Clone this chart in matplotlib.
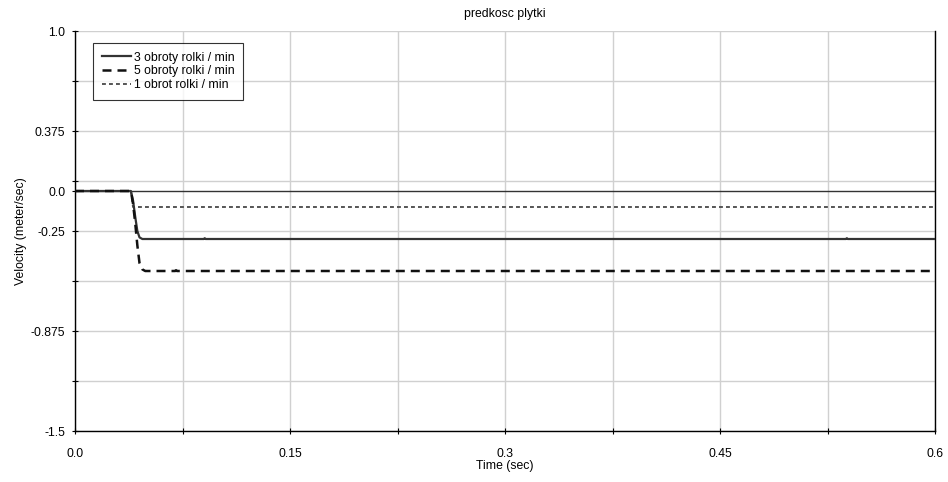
import matplotlib
matplotlib.use("Agg")
import matplotlib.pyplot as plt
import numpy as np

plt.rcParams['font.family'] = ['Liberation Sans', 'DejaVu Sans']

title = "predkosc plytki"
xlabel = "Time (sec)"
ylabel = "Velocity (meter/sec)"

# series data
t_3 = [0.0, 0.039, 0.0405, 0.042, 0.0435, 0.045, 0.047, 0.090, 0.0905, 0.091, 0.538, 0.5385, 0.539, 0.6]
v_3 = [0.0, 0.0, -0.06, -0.16, -0.25, -0.29, -0.30, -0.30, -0.295, -0.30, -0.30, -0.295, -0.30, -0.30]

t_5 = [0.0, 0.039, 0.0405, 0.042, 0.0435, 0.045, 0.047, 0.049, 0.070, 0.0705, 0.071, 0.6]
v_5 = [0.0, 0.0, -0.08, -0.20, -0.34, -0.45, -0.49, -0.50, -0.50, -0.495, -0.50, -0.50]

t_1 = [0.0, 0.039, 0.0405, 0.6]
v_1 = [0.0, 0.0, -0.10, -0.10]

labels = ["3 obroty rolki / min", "5 obroty rolki / min", "1 obrot rolki / min"]

x_major = [0.0, 0.15, 0.3, 0.45, 0.6]
x_minor = [0.075, 0.225, 0.375, 0.525]
y_major = [1.0, 0.375, 0.0, -0.25, -0.875, -1.5]
y_minor = [0.6875, 0.0625, -0.5625, -1.1875]

FS = 8.8

fig = plt.figure(figsize=(9.48, 4.82), dpi=100)
ax = fig.add_axes([75/948, 1-431/482, 860/948, 400/482])

ax.set_xlim(0, 0.6)
ax.set_ylim(-1.5, 1.0)

grid_y = [1.0, 0.6875, 0.375, 0.0625, -0.25, -0.5625, -0.875, -1.1875, -1.5]
for g in grid_y:
    ax.axhline(g, color='#d0d0d0', lw=1.0, zorder=0)
for g in x_major + x_minor:
    ax.axvline(g, color='#d0d0d0', lw=1.0, zorder=0)
ax.axhline(0.0, color='#333333', lw=1.0, zorder=1)

ax.plot(t_3, v_3, color='#333333', lw=1.6, label=labels[0], zorder=3)
ax.plot(t_5, v_5, color='#111111', lw=1.8, dashes=(3.6, 2.4), label=labels[1], zorder=3)
ax.plot(t_1, v_1, color='#555555', lw=1.4, dashes=(2.0, 1.6), label=labels[2], zorder=2)

ax.set_xticks(x_major)
ax.set_xticklabels(["0.0", "0.15", "0.3", "0.45", "0.6"])
ax.set_xticks(x_minor, minor=True)
ax.set_yticks(y_major)
ax.set_yticklabels(["1.0", "0.375", "0.0", "-0.25", "-0.875", "-1.5"])
ax.set_yticks(y_minor, minor=True)
ax.tick_params(axis='both', which='both', labelsize=FS, length=4, width=0.8, colors='#000000', direction='inout')
ax.tick_params(axis='x', pad=10)
ax.tick_params(axis='y', pad=5)

ax.spines['top'].set_visible(False)
ax.spines['right'].set_color('#000000')
for s in ['left', 'bottom', 'right']:
    ax.spines[s].set_linewidth(1.0)

ax.set_title(title, fontsize=FS, pad=10)
ax.set_xlabel(xlabel, fontsize=FS, labelpad=0)
ax.set_ylabel(ylabel, fontsize=FS, labelpad=3)

leg = ax.legend(loc='upper left', bbox_to_anchor=(18/860, 1-12/400), fontsize=FS,
                frameon=True, fancybox=False, handlelength=2.4, handletextpad=0.25,
                borderpad=0.7, labelspacing=0.15, borderaxespad=0)
leg.get_frame().set_edgecolor('#000000')
leg.get_frame().set_linewidth(0.8)

fig.savefig("out.png", dpi=100)
